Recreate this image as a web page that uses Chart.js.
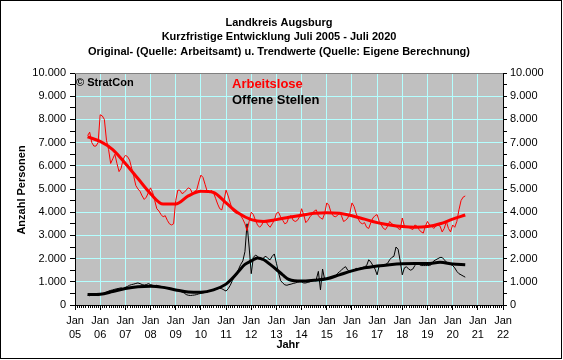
<!DOCTYPE html>
<html><head><meta charset="utf-8">
<script src="https://cdn.jsdelivr.net/npm/chart.js@4"></script>
<style>html,body{margin:0;padding:0;background:#fff}canvas{display:block}</style>
</head><body>
<canvas id="c" width="563" height="360"></canvas>
<script>
const titleLines = ['Landkreis Augsburg','Kurzfristige Entwicklung Juli 2005 - Juli 2020','Original- (Quelle: Arbeitsamt) u. Trendwerte (Quelle: Eigene Berechnung)'];
const seriesNames = ['Arbeitslose','Offene Stellen'];
const startYear = 2005, startMonth = 7; // Juli 2005, monthly values
const yTicks = [0,1000,2000,3000,4000,5000,6000,7000,8000,9000,10000];
const xYears = [2005,2006,2007,2008,2009,2010,2011,2012,2013,2014,2015,2016,2017,2018,2019,2020,2021,2022];

const arbeitsloseOrig = [
 7300,7450,7000,6850,6850,7000,
 8200,8150,8000,7100,6700,6100,6300,6500,6100,5750,5900,6300,
 6450,6400,6250,5900,5550,5150,5000,4900,4700,4550,4650,4850,
 5050,4850,4500,4150,4050,3900,3800,3850,3650,3500,3450,3500,
 4500,4950,4950,4800,4850,4950,5050,5000,4800,4900,4950,5300,
 5600,5500,5200,4900,4850,4950,4850,4600,4350,4150,4100,4500,
 4950,4700,4400,4100,4000,3950,3950,3850,3700,3500,3200,3600,
 4000,3900,3650,3450,3350,3450,3650,3600,3450,3350,3500,3650,
 3950,4000,3800,3650,3500,3550,3800,3850,3650,3600,3650,3800,
 4150,3900,3550,3650,3800,3900,4050,4100,3850,3750,3700,3950,
 4400,4300,4000,3850,3800,3850,3950,3850,3600,3650,3750,3950,
 4400,4250,3950,3700,3550,3500,3550,3350,3300,3550,3750,3850,
 3900,3600,3450,3300,3250,3400,3600,3500,3450,3400,3300,3250,
 3750,3400,3350,3350,3300,3250,3450,3400,3250,3150,3100,3400,
 3600,3450,3400,3300,3400,3450,3400,3150,3300,3600,3300,3150,
 3450,3350,3600,4100,4500,4650,4700
];
const offeneOrig = [
 420,400,430,450,430,400,
 450,480,520,560,600,630,650,680,700,720,740,700,
 760,800,850,880,900,930,950,920,880,860,880,920,
 880,850,830,850,820,800,780,760,740,720,700,680,
 650,640,600,560,520,450,420,410,420,430,450,480,
 500,520,540,560,600,620,650,680,700,720,700,650,
 600,700,850,1050,1200,1350,1550,1750,1900,2300,3500,2500,
 1350,2050,2150,2100,2000,1950,2050,2100,2000,1950,2100,2200,
 1800,1400,1050,950,870,850,880,900,930,950,980,1000,
 1000,950,950,980,1000,1050,1100,1100,1450,650,1550,1100,
 1100,1150,1200,1200,1250,1350,1430,1500,1600,1650,1500,1430,
 1450,1500,1580,1550,1600,1620,1650,1700,1950,1850,1700,1550,
 1300,1700,1700,1700,1750,1800,1950,2050,2100,2500,2400,1900,
 1300,1600,1650,1550,1500,1550,1700,1800,1750,1700,1700,1700,
 1700,1700,1750,1900,1950,2000,2050,2050,1950,1850,1800,1750,
 1700,1600,1450,1350,1300,1250,1200
];
const trendYears = [2005.5,2006,2006.5,2007,2007.5,2008,2008.5,2009,2009.5,2010,2010.5,2011,2011.5,2012,2012.5,2013,2013.5,2014,2014.5,2015,2015.5,2016,2016.5,2017,2017.5,2018,2018.5,2019,2019.5,2020,2020.5];
const arbeitsloseTrend = [7250,7050,6700,6100,5450,4800,4350,4350,4700,4900,4850,4400,3950,3680,3600,3680,3780,3870,3950,3980,3950,3850,3700,3550,3450,3380,3350,3380,3500,3700,3880];
const offeneTrendYears = [2005.5,2006,2006.5,2007,2007.5,2008,2008.5,2009,2009.5,2010,2010.5,2011,2011.25,2011.5,2011.75,2012,2012.25,2012.5,2012.75,2013,2013.25,2013.5,2014,2014.5,2015,2015.5,2016,2016.5,2017,2017.5,2018,2018.5,2019,2019.5,2020,2020.5];
const offeneTrend = [450,465,580,710,790,810,760,650,560,550,650,900,1150,1450,1750,1900,2030,1950,1750,1530,1300,1100,1030,1070,1130,1300,1470,1600,1680,1740,1780,1790,1790,1840,1770,1740];

function monthly(vals){ return vals.map((v,i)=>({x: startYear + (startMonth-1+i)/12, y: v})); }
function pairs(xs, vals){ return vals.map((v,i)=>({x: xs[i], y: v})); }
function fmt(v){ return v===0 ? '0' : String(v).replace(/\B(?=(\d{3})+(?!\d))/g,'.'); }

const FONT = "'Liberation Sans', Arial, sans-serif";
const GRID = '#b4ffff';

const deco = {
  id:'deco',
  beforeDraw(chart){
    const c = chart.ctx, a = chart.chartArea;
    c.save();
    c.fillStyle = '#fff'; c.fillRect(0,0,chart.width,chart.height);
    c.fillStyle = '#c0c0c0'; c.fillRect(a.left,a.top,a.right-a.left,a.bottom-a.top);
    c.restore();
  },
  afterDraw(chart){
    const c = chart.ctx, a = chart.chartArea, xs = chart.scales.x;
    c.save();
    c.strokeStyle = '#808080'; c.lineWidth = 1;
    c.beginPath(); c.moveTo(a.left, a.top+0.5); c.lineTo(a.right, a.top+0.5); c.stroke();
    c.strokeStyle = '#000';
    c.beginPath();
    for (let y = xYears[0]; y < xYears[xYears.length-1]; y++) {
      for (let m = 1; m < 12; m++) {
        const px = Math.round(xs.getPixelForValue(y + m/12)) + 0.5;
        c.moveTo(px, a.bottom); c.lineTo(px, a.bottom+3);
      }
    }
    c.stroke();
    c.fillStyle = '#000'; c.textAlign = 'center'; c.textBaseline = 'alphabetic';
    c.font = 'bold 11px ' + FONT;
    c.fillText(titleLines[0], 279, 26);
    c.fillText(titleLines[1], 279, 40);
    c.fillText(titleLines[2], 279, 55);
    c.textAlign = 'left';
    c.fillText('© StratCon', 76, 86);
    c.font = 'bold 13px ' + FONT;
    c.fillStyle = '#ff0000'; c.fillText(seriesNames[0], 232, 88);
    c.fillStyle = '#000'; c.fillText(seriesNames[1], 232, 104);
    c.font = 'bold 11px ' + FONT;
    c.textAlign = 'center';
    c.fillText('Jahr', 288, 348);
    c.translate(25, 190); c.rotate(-Math.PI/2);
    c.fillText('Anzahl Personen', 0, 0);
    c.restore();
    c.save(); c.strokeStyle = '#000'; c.lineWidth = 1;
    c.strokeRect(0.5,0.5,561,358); c.restore();
  }
};

const yTickOpts = {
  stepSize: 500, autoSkip: false, color: '#000',
  font: {family: FONT, size: 11},
  callback: v => (v % 1000 === 0 ? fmt(v) : '')
};

new Chart(document.getElementById('c'), {
  type: 'line',
  data: {
    datasets: [
      {label: seriesNames[0]+' Trend', data: pairs(trendYears, arbeitsloseTrend), borderColor:'#ff0000', borderWidth:3, pointRadius:0, tension:0.4, cubicInterpolationMode:'monotone', order:1},
      {label: seriesNames[1]+' Trend', data: pairs(offeneTrendYears, offeneTrend), borderColor:'#000', borderWidth:3, pointRadius:0, tension:0.4, cubicInterpolationMode:'monotone', order:1},
      {label: seriesNames[0], data: monthly(arbeitsloseOrig), borderColor:'#ff0000', borderWidth:1, pointRadius:0, tension:0, order:2},
      {label: seriesNames[1], data: monthly(offeneOrig), borderColor:'#000', borderWidth:1, pointRadius:0, tension:0, order:2}
    ]
  },
  options: {
    responsive:false, animation:false, devicePixelRatio:1,
    layout:{padding:{top:73,left:0,right:0,bottom:0}},
    plugins:{legend:{display:false}, tooltip:{enabled:false}},
    scales:{
      x:{
        type:'linear', min:xYears[0], max:xYears[xYears.length-1],
        afterFit: s => { s.height = 55; },
        afterBuildTicks: s => { s.ticks = xYears.map(v=>({value:v})); },
        ticks:{autoSkip:false, maxRotation:0, color:'#000', padding:4,
          font:{family:FONT, size:11, lineHeight:1.27},
          callback: v => ['Jan', String(v % 100).padStart(2,'0')]},
        grid:{color:GRID, tickColor:'#000', tickLength:5, lineWidth:1},
        border:{color:'#000', width:1}
      },
      y:{
        position:'left', min:0, max:10000,
        afterFit: s => { s.width = 75; },
        ticks:Object.assign({padding:4}, yTickOpts),
        grid:{color: ctx => (ctx.tick && ctx.tick.value % 1000 === 0 ? GRID : 'rgba(0,0,0,0)'), tickColor:'#000', tickLength:5},
        border:{color:'#000', width:1}
      },
      y2:{
        position:'right', min:0, max:10000,
        afterFit: s => { s.width = 60; },
        ticks:Object.assign({padding:3}, yTickOpts),
        grid:{drawOnChartArea:false, tickColor:'#000', tickLength:4},
        border:{color:'#000', width:1}
      }
    }
  },
  plugins:[deco]
});
</script>
</body></html>
